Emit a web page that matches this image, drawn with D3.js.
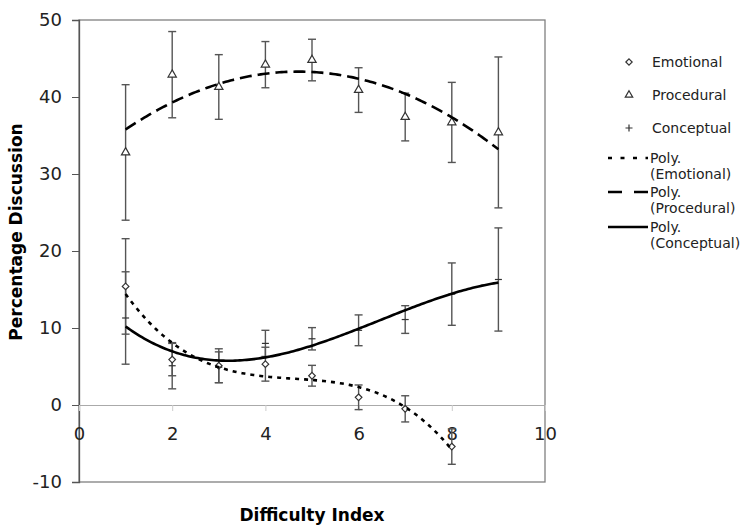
<!DOCTYPE html>
<html>
<head>
<meta charset="utf-8">
<script src="https://cdn.jsdelivr.net/npm/d3@7"></script>
<style>
  body { margin: 0; background: #fff; }
  text { font-family: "DejaVu Sans", Verdana, sans-serif; }
</style>
</head>
<body>
<svg id="chart" width="744" height="525"></svg>
<script>
// difficulty index 1..9
const xValues = [1, 2, 3, 4, 5, 6, 7, 8, 9];

const emotional = [15.4, 5.9, 5.1, 5.3, 3.8, 1.0, -0.5, -5.4];
const emotionalErr = [6.2, 2.1, 2.2, 2.2, 1.35, 1.6, 1.7, 2.3];

const procedural = [32.8, 42.9, 41.3, 44.2, 44.8, 40.9, 37.4, 36.7, 35.4];
const proceduralErr = [8.8, 5.6, 4.2, 3.0, 2.7, 2.9, 3.1, 5.2, 9.8];

const conceptual = [11.3, 5.1, 4.9, 8.0, 8.6, 9.7, 11.1, 14.4, 16.3];
const conceptualErr = [6.0, 3.0, 2.0, 1.7, 1.45, 2.0, 1.8, 4.05, 6.7];

const xTicks = [0, 2, 4, 6, 8, 10];
const yTicks = [-10, 0, 10, 20, 30, 40, 50];

const legendLabels = ['Emotional', 'Procedural', 'Conceptual'];

const svg = d3.select('#chart');
const margin = { top: 20, right: 199, bottom: 43, left: 79 };
const width = 744;
const height = 525;

const x = d3.scaleLinear().domain([0, 10]).range([margin.left, width - margin.right]);
const y = d3.scaleLinear().domain([-10, 50]).range([height - margin.bottom, margin.top]);

// square diamond like Excel's marker
const squareDiamond = {
  draw(ctx, size) {
    const r = Math.sqrt(size / 2);
    ctx.moveTo(0, -r); ctx.lineTo(r, 0); ctx.lineTo(0, r); ctx.lineTo(-r, 0); ctx.closePath();
  }
};

// least squares polynomial (Excel style "Poly." trendline)
function polyFit(xs, ys, order) {
  const n = order + 1;
  const A = [];
  for (let i = 0; i < n; i++) {
    A.push([]);
    for (let j = 0; j < n; j++) A[i].push(d3.sum(xs, v => Math.pow(v, i + j)));
    A[i].push(d3.sum(xs, (v, k) => ys[k] * Math.pow(v, i)));
  }
  for (let c = 0; c < n; c++) {
    let p = c;
    for (let r = c + 1; r < n; r++) if (Math.abs(A[r][c]) > Math.abs(A[p][c])) p = r;
    [A[c], A[p]] = [A[p], A[c]];
    for (let r = 0; r < n; r++) {
      if (r === c) continue;
      const f = A[r][c] / A[c][c];
      for (let k = c; k <= n; k++) A[r][k] -= f * A[c][k];
    }
  }
  const coef = A.map((row, i) => row[n] / row[i]);
  return v => d3.sum(coef, (c, i) => c * Math.pow(v, i));
}

// plot area border
svg.append('rect')
  .attr('x', x(0)).attr('y', y(50))
  .attr('width', x(10) - x(0)).attr('height', y(-10) - y(50))
  .attr('fill', 'none').attr('stroke', '#808080').attr('stroke-width', 1.3);

// y axis
const yAxis = svg.append('g')
  .attr('transform', `translate(${x(0)},0)`)
  .call(d3.axisLeft(y).tickValues(yTicks).tickFormat(d => String(d)).tickSize(7).tickPadding(10));
yAxis.select('.domain').attr('stroke', '#555').attr('stroke-width', 1.3);
yAxis.selectAll('.tick line').attr('stroke', '#555');
yAxis.selectAll('.tick text').attr('font-size', '18px').attr('fill', '#222');

// x axis along y = 0
const xAxis = svg.append('g')
  .attr('transform', `translate(0,${y(0)})`)
  .call(d3.axisBottom(x).tickValues(xTicks).tickFormat(d => String(d)).tickSize(6).tickPadding(16));
xAxis.select('.domain').attr('stroke', '#aaa');
xAxis.selectAll('.tick line').attr('stroke', '#ccc');
xAxis.selectAll('.tick text').attr('font-size', '18px').attr('fill', '#222');

svg.append('text')
  .attr('transform', `translate(22,${(y(50) + y(-10)) / 2 - 19}) rotate(-90)`)
  .attr('text-anchor', 'middle')
  .attr('font-size', '17px')
  .attr('font-weight', 'bold')
  .text('Percentage Discussion');

svg.append('text')
  .attr('x', (x(0) + x(10)) / 2)
  .attr('y', 521)
  .attr('text-anchor', 'middle')
  .attr('font-size', '17px')
  .attr('font-weight', 'bold')
  .text('Difficulty Index');

const series = [
  { name: 'Emotional', values: emotional, err: emotionalErr, symbol: squareDiamond, order: 3, dash: '4,5', legendDash: '4,8.5' },
  { name: 'Procedural', values: procedural, err: proceduralErr, symbol: d3.symbolTriangle, order: 2, dash: '12,6', legendDash: '14,12' },
  { name: 'Conceptual', values: conceptual, err: conceptualErr, symbol: d3.symbolCross, order: 3, dash: null, legendDash: null }
];

// error bars
series.forEach(s => {
  const pts = s.values.map((v, i) => ({ x: xValues[i], v, e: s.err[i] }));
  const g = svg.append('g').attr('stroke', '#555').attr('stroke-width', 1.4);
  g.selectAll('line.bar').data(pts).join('line')
    .attr('x1', d => x(d.x)).attr('x2', d => x(d.x))
    .attr('y1', d => y(d.v + d.e)).attr('y2', d => y(d.v - d.e));
  g.selectAll('line.capTop').data(pts).join('line')
    .attr('x1', d => x(d.x) - 4).attr('x2', d => x(d.x) + 4)
    .attr('y1', d => y(d.v + d.e)).attr('y2', d => y(d.v + d.e));
  g.selectAll('line.capBot').data(pts).join('line')
    .attr('x1', d => x(d.x) - 4).attr('x2', d => x(d.x) + 4)
    .attr('y1', d => y(d.v - d.e)).attr('y2', d => y(d.v - d.e));
});

// markers
series.forEach(s => {
  const pts = s.values.map((v, i) => ({ x: xValues[i], v }));
  if (s.name === 'Conceptual') {
    svg.append('g').selectAll('line').data(pts).join('line')
      .attr('x1', d => x(d.x) - 3.5).attr('x2', d => x(d.x) + 3.5)
      .attr('y1', d => y(d.v)).attr('y2', d => y(d.v))
      .attr('stroke', '#333').attr('stroke-width', 1.2);
    return;
  }
  svg.append('g').selectAll('path').data(pts).join('path')
    .attr('transform', d => `translate(${x(d.x)},${y(d.v)})`)
    .attr('d', d3.symbol().type(s.symbol).size(s.name === 'Emotional' ? 22 : 30))
    .attr('fill', '#fff').attr('stroke', '#333').attr('stroke-width', 1.2);
});

// trend lines
series.forEach(s => {
  const xs = xValues.slice(0, s.values.length);
  const f = polyFit(xs, s.values, s.order);
  const samples = d3.range(xs[0], xs[xs.length - 1] + 0.001, 0.05);
  svg.append('path')
    .datum(samples)
    .attr('d', d3.line().x(d => x(d)).y(d => y(f(d))))
    .attr('fill', 'none').attr('stroke', '#000').attr('stroke-width', 2.6)
    .attr('stroke-dasharray', s.dash);
});

// legend
const legend = svg.append('g');
const markerRows = [62, 95, 128];
series.forEach((s, i) => {
  const ly = markerRows[i];
  if (s.name === 'Conceptual') {
    legend.append('path').attr('d', `M625.5,${ly}h7M629,${ly - 3.5}v7`)
      .attr('stroke', '#333').attr('stroke-width', 1.2);
  } else {
    legend.append('path')
      .attr('transform', `translate(629,${ly})`)
      .attr('d', d3.symbol().type(s.symbol).size(s.name === 'Emotional' ? 20 : 24))
      .attr('fill', '#fff').attr('stroke', '#333').attr('stroke-width', 1.2);
  }
  legend.append('text').attr('x', 652).attr('y', ly + 5)
    .attr('font-size', '14px').attr('fill', '#222').text(legendLabels[i]);
});
const lineRows = [158, 192, 227];
series.forEach((s, i) => {
  const ly = lineRows[i];
  legend.append('line')
    .attr('x1', 608).attr('x2', 648).attr('y1', ly).attr('y2', ly)
    .attr('stroke', '#000').attr('stroke-width', 2.6)
    .attr('stroke-dasharray', s.legendDash);
  const t = legend.append('text').attr('x', 650).attr('y', ly + 5)
    .attr('font-size', '14px').attr('fill', '#222');
  t.append('tspan').attr('x', 650).text('Poly.');
  t.append('tspan').attr('x', 650).attr('dy', 16).text(`(${legendLabels[i]})`);
});
</script>
</body>
</html>
